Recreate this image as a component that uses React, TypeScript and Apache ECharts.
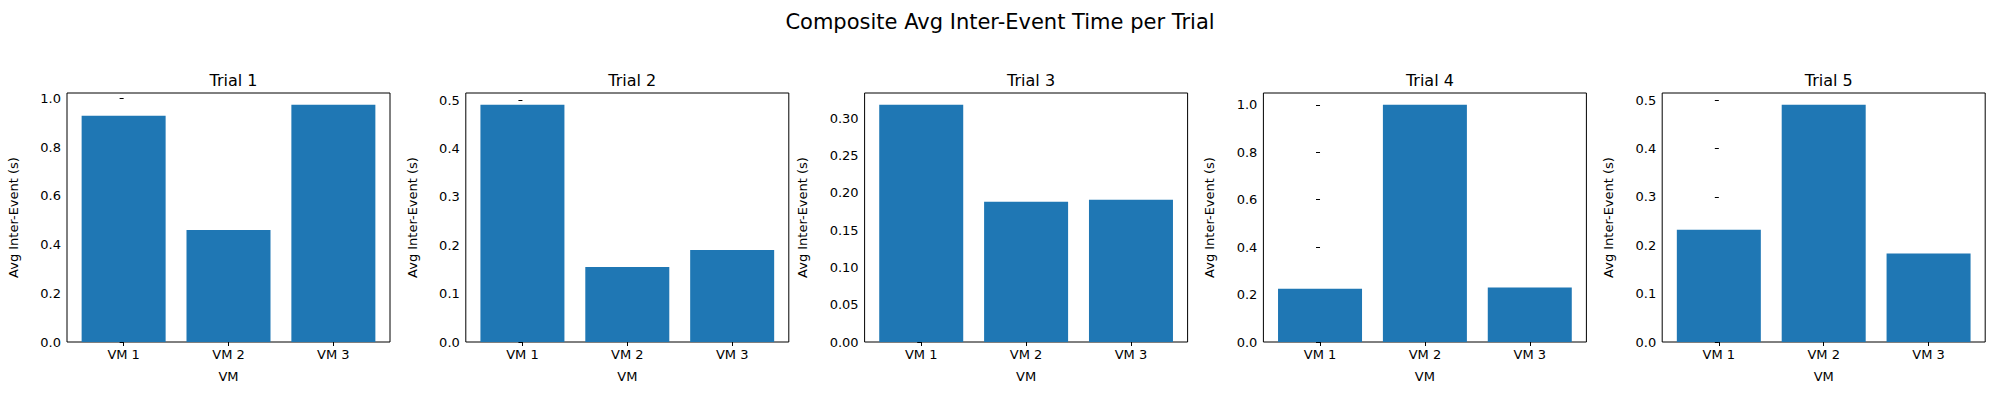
import { useEffect, useRef } from "react";
import * as echarts from "echarts";

const vms = ["VM 1", "VM 2", "VM 3"];
const trials = ["Trial 1", "Trial 2", "Trial 3", "Trial 4", "Trial 5"];
const trial1 = [0.928, 0.46, 0.973];
const trial2 = [0.49, 0.155, 0.19];
const trial3 = [0.318, 0.188, 0.1906];
const trial4 = [0.225, 1.0, 0.23];
const trial5 = [0.232, 0.49, 0.183];
const values = [trial1, trial2, trial3, trial4, trial5];
const tickSteps = [0.2, 0.1, 0.05, 0.2, 0.1];
const tickDigits = [1, 1, 2, 1, 1];

const font = "DejaVu Sans";
const blue = "#1f77b4";

export default function App() {
  const ref = useRef<HTMLDivElement>(null);

  useEffect(() => {
    document.body.style.margin = "0";
    const el = ref.current;
    if (!el) return;
    const chart = echarts.init(el, undefined, { renderer: "svg" });
    const left0 = 67;
    const stride = 398.8;
    const w = 323;
    const grid = trials.map((_, i) => ({
      left: left0 + i * stride,
      top: 93,
      width: w,
      height: 249,
      show: true,
      borderColor: "#000",
      borderWidth: 1,
    }));
    const xAxis = trials.map((_, i) => ({
      type: "value",
      gridIndex: i,
      min: -0.54,
      max: 2.54,
      name: "VM",
      nameLocation: "middle",
      nameGap: 28,
      nameTextStyle: { color: "#000", fontSize: 13, fontFamily: font },
      axisLine: { show: false },
      splitLine: { show: false },
      axisTick: { show: true, length: 4, lineStyle: { color: "#000" }, customValues: [0, 1, 2] },
      axisLabel: {
        color: "#000",
        fontSize: 13,
        fontFamily: font,
        margin: 6,
        customValues: [0, 1, 2],
        formatter: (v: number) => vms[Math.round(v)],
      },
    }));
    const yAxis = values.map((vals, i) => {
      const max = Math.max(...vals) * 1.05;
      const ticks: number[] = [];
      for (let t = 0; t <= max + 1e-9; t += tickSteps[i]) ticks.push(Number(t.toFixed(4)));
      return {
        type: "value",
        gridIndex: i,
        min: 0,
        max,
        name: "Avg Inter-Event (s)",
        nameLocation: "middle",
        nameGap: i === 2 ? 56 : 47,
        nameTextStyle: { color: "#000", fontSize: 13, fontFamily: font },
        axisLine: { show: false },
        splitLine: { show: false },
        axisTick: { show: true, length: 4, lineStyle: { color: "#000" }, customValues: ticks },
        axisLabel: {
          color: "#000",
          fontSize: 13,
          fontFamily: font,
          margin: 6,
          customValues: ticks,
          formatter: (v: number) => v.toFixed(tickDigits[i]),
        },
      };
    });
    const series = values.map((vals, i) => ({
      type: "bar",
      xAxisIndex: i,
      yAxisIndex: i,
      barWidth: 84,
      data: vals.map((v, k) => [k, v]),
      itemStyle: { color: blue },
    }));
    const title = [
      {
        text: "Composite Avg Inter-Event Time per Trial",
        left: "center",
        top: 6,
        textStyle: { color: "#000", fontSize: 21, fontWeight: "normal", fontFamily: font },
      },
      ...trials.map((t, i) => ({
        text: t,
        left: left0 + i * stride + w / 2,
        textAlign: "center",
        top: 67,
        textStyle: { color: "#000", fontSize: 16, fontWeight: "normal", fontFamily: font },
      })),
    ];
    chart.setOption({ animation: false, title, grid, xAxis, yAxis, series });
    return () => chart.dispose();
  }, []);

  return <div ref={ref} style={{ width: 2000, height: 400, background: "#fff" }} />;
}
